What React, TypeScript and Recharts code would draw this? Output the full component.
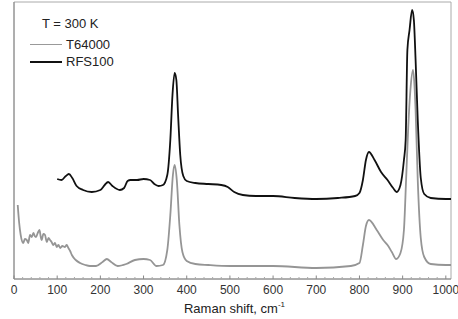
import React from 'react';
import { LineChart, Line, XAxis, YAxis, Label, ReferenceArea, ReferenceLine } from 'recharts';

// Raman shift (cm-1) and intensity (arb. units)
const grayShift = [8.6, 12, 15.5, 21.6, 25, 29.5, 33, 37, 41, 45, 48, 51, 55, 59, 62, 64, 68, 72, 74, 76, 80, 83.5, 87, 91, 95, 99, 103, 107, 112, 118, 122, 126, 130, 134, 143, 153, 165, 176, 190, 205, 215, 225, 240, 260, 280, 300, 315, 330, 345, 355, 362, 368, 372, 377, 383, 390, 400, 420, 450, 500, 600, 700, 780, 800, 808, 815, 822, 840, 855, 865, 875, 885, 895, 903, 908, 913, 918, 924, 928, 930, 935, 942, 950, 965, 1000, 1012];
const grayIntensity = [74, 56, 44, 36, 40, 39, 36, 44, 42, 46, 43, 42, 46, 49, 42, 39, 45, 44, 40, 37, 41, 39, 37, 34, 36, 32, 34, 31, 33, 32, 34, 31, 28, 24, 19, 16, 14, 13, 13, 17, 20, 17, 13, 15, 19, 20, 19, 13, 14, 29, 64, 104, 114, 99, 54, 27, 18, 15, 14, 13, 13, 11, 13, 16, 34, 53, 59, 49, 39, 34, 27, 20, 26, 49, 99, 152, 189, 209, 189, 169, 99, 41, 22, 15, 14, 14];

const blackShift = [100, 110, 120, 127, 135, 145, 160, 180, 200, 210, 218, 228, 245, 255, 263, 270, 285, 300, 315, 325, 335, 345, 355, 362, 367, 372, 376, 380, 385, 392, 400, 420, 450, 480, 495, 510, 530, 560, 600, 650, 700, 750, 790, 800, 808, 815, 822, 835, 850, 865, 878, 886, 895, 903, 907, 911, 916, 922, 926, 930, 935, 942, 950, 965, 1000, 1012];
const blackIntensity = [100, 99, 103, 105, 101, 93, 89, 87, 89, 94, 97, 93, 89, 91, 98, 99, 99, 100, 99, 95, 93, 94, 104, 139, 184, 206, 199, 164, 124, 103, 98, 96, 95, 94, 92, 87, 84, 83, 83, 81, 80, 81, 83, 86, 99, 119, 127, 119, 107, 99, 91, 87, 94, 119, 139, 229, 249, 269, 259, 219, 159, 101, 85, 81, 80, 80];

const majorTicks = [0, 100, 200, 300, 400, 500, 600, 700, 800, 900, 1000];
const minorTicks = Array.from({ length: 51 }, (_, i) => i * 20).filter((t) => t % 100 !== 0);

const X_MAX = 1012;
const Y_MAX = 277;

const grayData = grayShift.map((x, i) => ({ x, y: grayIntensity[i] }));
const blackData = blackShift.map((x, i) => ({ x, y: blackIntensity[i] }));

const FONT = '"Liberation Sans", Arial, sans-serif';

const LegendBox = () => (
  <div
    style={{
      position: 'absolute',
      left: 30,
      top: 15,
      fontFamily: FONT,
      fontSize: 13,
      color: '#222',
      lineHeight: '17px',
    }}
  >
    <div style={{ marginLeft: 12, marginBottom: 4 }}>T = 300 K</div>
    <div style={{ display: 'flex', alignItems: 'center' }}>
      <span style={{ display: 'inline-block', width: 32, height: 0, borderTop: '1.5px solid #999', marginRight: 4 }} />
      T64000
    </div>
    <div style={{ display: 'flex', alignItems: 'center' }}>
      <span style={{ display: 'inline-block', width: 32, height: 0, borderTop: '2px solid #111', marginRight: 4 }} />
      RFS100
    </div>
  </div>
);

const AxisTitle = (props: any) => {
  const { viewBox } = props;
  const cx = viewBox.x + viewBox.width / 2 + 2;
  return (
    <text x={cx} y={313} textAnchor="middle" fontFamily={FONT} fontSize={13} fill="#222">
      Raman shift, cm
      <tspan dy={-6} fontSize={8}>-1</tspan>
    </text>
  );
};

export default function App() {
  return (
    <div style={{ position: 'absolute', left: 0, top: 0, width: 458, height: 319, background: '#fff' }}>
      <LineChart width={458} height={319} margin={{ top: 2, right: 7, bottom: 18, left: 14 }}>
        <XAxis
          type="number"
          dataKey="x"
          domain={[0, X_MAX]}
          ticks={majorTicks}
          allowDataOverflow
          height={22}
          axisLine={false}
          tickLine={false}
          tickSize={4}
          tickMargin={2}
          tick={{ fill: '#333', fontSize: 12, fontFamily: FONT }}
        >
          <Label content={<AxisTitle />} />
        </XAxis>
        <YAxis domain={[0, Y_MAX]} width={0} hide />
        <ReferenceArea x1={0} x2={X_MAX} y1={0} y2={Y_MAX} fill="none" stroke="#aaa" strokeWidth={1} />
        <ReferenceLine segment={[{ x: 0, y: 0 }, { x: X_MAX, y: 0 }]} stroke="#888" />
        <ReferenceLine segment={[{ x: 0, y: 0 }, { x: 0, y: Y_MAX }]} stroke="#888" />
        {majorTicks.map((t) => (
          <ReferenceLine key={`M${t}`} segment={[{ x: t, y: 0 }, { x: t, y: 3.5 }]} stroke="#888" />
        ))}
        {minorTicks.map((t) => (
          <ReferenceLine key={`m${t}`} segment={[{ x: t, y: 0 }, { x: t, y: 2 }]} stroke="#aaa" />
        ))}
        <Line
          data={grayData}
          dataKey="y"
          name="T64000"
          type="monotone"
          stroke="#959595"
          strokeWidth={1.8}
          dot={false}
          isAnimationActive={false}
        />
        <Line
          data={blackData}
          dataKey="y"
          name="RFS100"
          type="monotone"
          stroke="#111"
          strokeWidth={1.8}
          dot={false}
          isAnimationActive={false}
        />
      </LineChart>
      <LegendBox />
    </div>
  );
}
